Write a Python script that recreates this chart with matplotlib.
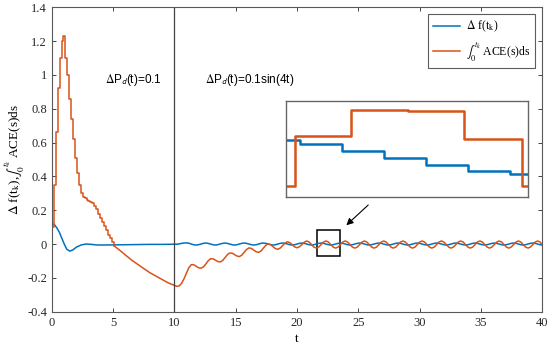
import matplotlib as mpl
mpl.use('Agg')
import matplotlib.pyplot as plt
from matplotlib.patches import Rectangle
from matplotlib.ticker import FuncFormatter

plt.rcParams['font.family'] = ['Liberation Serif', 'DejaVu Serif']
plt.rcParams['mathtext.fontset'] = 'stix'
plt.rcParams['axes.unicode_minus'] = False

BLUE = '#0072BD'
ORANGE = '#D95319'

# integral of ACE, first part is a staircase (sampled)
t_o_steps = [0.0, 0.18, 0.33, 0.48, 0.64, 0.80, 0.92, 1.06, 1.22, 1.38, 1.54,
             1.70, 1.86, 2.02, 2.18, 2.34, 2.50, 2.66, 2.82, 2.98, 3.14, 3.30,
             3.46, 3.62, 3.78, 3.94, 4.10, 4.26, 4.42, 4.58, 4.74, 4.90, 5.06]
y_o_steps = [0.10, 0.35, 0.66, 0.92, 1.10, 1.20, 1.23, 1.10, 1.00, 0.86, 0.74,
             0.62, 0.51, 0.42, 0.35, 0.30, 0.28, 0.27, 0.26, 0.255, 0.25, 0.24,
             0.225, 0.205, 0.18, 0.155, 0.13, 0.105, 0.085, 0.055, 0.035, 0.01, -0.01]

t_o_mid = [5.06, 5.5, 6.0, 6.5, 7.0, 7.5, 8.0, 8.5, 9.0, 9.5, 10.0]
y_o_mid = [-0.01, -0.035, -0.065, -0.095, -0.12, -0.145, -0.17, -0.19, -0.21, -0.23, -0.245]

# shared time grid after the disturbance change at t=10
t_late = [10.19, 10.39, 10.58, 10.78, 10.98, 11.17, 11.37, 11.56, 11.76, 11.96,
          12.15, 12.35, 12.55, 12.74, 12.94, 13.14, 13.33, 13.53, 13.72, 13.92,
          14.12, 14.31, 14.51, 14.71, 14.90, 15.10, 15.30, 15.49, 15.69, 15.88,
          16.08, 16.28, 16.47, 16.67, 16.87, 17.06, 17.26, 17.46, 17.65, 17.85,
          18.04, 18.24, 18.44, 18.63, 18.83, 19.03, 19.22, 19.42, 19.61, 19.81,
          20.01, 20.20, 20.40, 20.60, 20.79, 20.99, 21.19, 21.38, 21.58, 21.77,
          21.97, 22.17, 22.36, 22.56, 22.76, 22.95, 23.15, 23.35, 23.54, 23.74,
          23.93, 24.13, 24.33, 24.52, 24.72, 24.92, 25.11, 25.31, 25.51, 25.70,
          25.90, 26.09, 26.29, 26.49, 26.68, 26.88, 27.08, 27.27, 27.47, 27.67,
          27.86, 28.06, 28.25, 28.45, 28.65, 28.84, 29.04, 29.24, 29.43, 29.63,
          29.83, 30.02, 30.22, 30.41, 30.61, 30.81, 31.00, 31.20, 31.40, 31.59,
          31.79, 31.99, 32.18, 32.38, 32.57, 32.77, 32.97, 33.16, 33.36, 33.56,
          33.75, 33.95, 34.14, 34.34, 34.54, 34.73, 34.93, 35.13, 35.32, 35.52,
          35.72, 35.91, 36.11, 36.31, 36.50, 36.70, 36.89, 37.09, 37.29, 37.48,
          37.68, 37.88, 38.07, 38.27, 38.46, 38.66, 38.86, 39.05, 39.25, 39.45,
          39.64, 39.84, 40.00]
y_o_late = [-0.250, -0.247, -0.232, -0.205, -0.172, -0.140, -0.122, -0.122, -0.131, -0.140,
            -0.143, -0.136, -0.119, -0.100, -0.087, -0.087, -0.095, -0.103, -0.106, -0.098,
            -0.081, -0.063, -0.053, -0.054, -0.062, -0.071, -0.074, -0.066, -0.049, -0.032,
            -0.023, -0.026, -0.036, -0.046, -0.049, -0.041, -0.024, -0.007, 0.001, -0.004,
            -0.015, -0.027, -0.031, -0.024, -0.009, 0.006, 0.013, 0.008, -0.004, -0.017,
            -0.022, -0.016, -0.003, 0.011, 0.018, 0.012, -0.003, -0.018, -0.024, -0.018,
            -0.003, 0.012, 0.018, 0.012, -0.003, -0.018, -0.024, -0.018, -0.003, 0.012,
            0.018, 0.012, -0.003, -0.018, -0.024, -0.018, -0.003, 0.012, 0.018, 0.012,
            -0.003, -0.018, -0.024, -0.018, -0.003, 0.012, 0.018, 0.012, -0.003, -0.018,
            -0.024, -0.018, -0.003, 0.012, 0.018, 0.012, -0.003, -0.018, -0.024, -0.018,
            -0.003, 0.012, 0.018, 0.012, -0.003, -0.018, -0.024, -0.018, -0.003, 0.012,
            0.018, 0.012, -0.003, -0.018, -0.024, -0.018, -0.003, 0.012, 0.018, 0.012,
            -0.003, -0.018, -0.024, -0.018, -0.003, 0.012, 0.018, 0.012, -0.003, -0.018,
            -0.024, -0.018, -0.003, 0.012, 0.018, 0.012, -0.003, -0.018, -0.024, -0.018,
            -0.003, 0.012, 0.018, 0.012, -0.003, -0.018, -0.024, -0.018, -0.003, 0.012,
            0.018, 0.012, -0.003]

# frequency deviation
t_b_early = [0.0, 0.2, 0.4, 0.6, 0.8, 1.0, 1.2, 1.45, 1.7, 2.0, 2.4, 2.8, 3.2,
             3.6, 4.0, 5.0, 6.0, 7.0, 8.0, 9.0, 10.0]
y_b_early = [0.12, 0.115, 0.095, 0.07, 0.035, 0.0, -0.03, -0.042, -0.035, -0.018,
             -0.005, 0.0, -0.002, -0.005, -0.006, -0.005, -0.004, -0.003, -0.002,
             -0.002, -0.001]
y_b_late = [-0.001, 0.001, 0.004, 0.006, 0.007, 0.005, 0.000, -0.004, -0.006, -0.004,
            0.000, 0.004, 0.006, 0.004, 0.000, -0.004, -0.006, -0.004, 0.000, 0.004,
            0.006, 0.004, 0.000, -0.004, -0.006, -0.004, 0.000, 0.004, 0.006, 0.004,
            0.000, -0.004, -0.006, -0.004, 0.000, 0.004, 0.006, 0.004, 0.000, -0.004,
            -0.006, -0.004, 0.000, 0.004, 0.006, 0.004, 0.000, -0.004, -0.006, -0.004,
            0.000, 0.004, 0.006, 0.004, 0.000, -0.004, -0.006, -0.004, 0.000, 0.004,
            0.006, 0.004, 0.000, -0.004, -0.006, -0.004, 0.000, 0.004, 0.006, 0.004,
            0.000, -0.004, -0.006, -0.004, 0.000, 0.004, 0.006, 0.004, 0.000, -0.004,
            -0.006, -0.004, 0.000, 0.004, 0.006, 0.004, 0.000, -0.004, -0.006, -0.004,
            0.000, 0.004, 0.006, 0.004, 0.000, -0.004, -0.006, -0.004, 0.000, 0.004,
            0.006, 0.004, 0.000, -0.004, -0.006, -0.004, 0.000, 0.004, 0.006, 0.004,
            0.000, -0.004, -0.006, -0.004, 0.000, 0.004, 0.006, 0.004, 0.000, -0.004,
            -0.006, -0.004, 0.000, 0.004, 0.006, 0.004, 0.000, -0.004, -0.006, -0.004,
            0.000, 0.004, 0.006, 0.004, 0.000, -0.004, -0.006, -0.004, 0.000, 0.004,
            0.006, 0.004, 0.000, -0.004, -0.006, -0.004, 0.000, 0.004, 0.006, 0.004,
            0.000, -0.004, -0.006]

# zoomed window (inset)
t_in_blue = [21.60, 21.71, 22.04, 22.37, 22.70, 23.03, 23.36, 23.50]
y_in_blue = [0.020, 0.014, 0.003, -0.009, -0.020, -0.029, -0.034, -0.034]
t_in_orange = [21.60, 21.67, 22.11, 22.56, 23.00, 23.45, 23.50]
y_in_orange = [-0.053, 0.026, 0.069, 0.067, 0.022, -0.053, -0.053]

fig = plt.figure(figsize=(5.5, 3.48), dpi=100)
ax = fig.add_axes([0.0945, 0.1043, 0.891, 0.875])

lw = 1.1
ax.plot(t_b_early + t_late, y_b_early + y_b_late, color=BLUE, lw=lw,
        label=r'$\Delta$ f(t$_\mathrm{k}$)')
ax.plot(t_o_steps, y_o_steps, color=ORANGE, lw=lw, drawstyle='steps-post',
        label=r'$\int_0^{t_k}$ ACE(s)ds')
ax.plot(t_o_mid + t_late, y_o_mid + y_o_late, color=ORANGE, lw=lw)

ax.axvline(10, color='0.25', lw=0.9)

ax.set_xlim(0, 40)
ax.set_ylim(-0.4, 1.4)
ax.set_xticks(range(0, 41, 5))
ax.set_yticks([-0.4, -0.2, 0, 0.2, 0.4, 0.6, 0.8, 1.0, 1.2, 1.4])
ax.yaxis.set_major_formatter(FuncFormatter(lambda v, p: '%g' % round(v, 2)))
ax.tick_params(direction='in', top=True, right=True, labelsize=9,
               length=3, width=0.6, colors='0.15')
for s in ax.spines.values():
    s.set_color('0.35')
    s.set_linewidth(0.8)

ax.set_xlabel('t', fontsize=9.5, labelpad=3)
ax.set_ylabel(r'$\Delta$ f(t$_\mathrm{k}$),$\int_0^{t_k}$ ACE(s)ds', fontsize=9.5)
ax.yaxis.set_label_coords(-0.05, 0.5)

ax.text(4.35, 0.97, r'$\Delta$P$_\mathsf{d}$(t)=0.1', family=['Liberation Sans', 'DejaVu Sans'],
        fontsize=8.5, va='center')
ax.text(12.5, 0.97, r'$\Delta$P$_\mathsf{d}$(t)=0.1sin(4t)', family=['Liberation Sans', 'DejaVu Sans'],
        fontsize=8.5, va='center')

leg = ax.legend(loc='upper right', fontsize=8.5, frameon=True, fancybox=False,
                handlelength=2.3, borderaxespad=0.6, labelspacing=0.5,
                handletextpad=0.5)
leg.get_frame().set_edgecolor('0.2')
leg.get_frame().set_linewidth(0.8)

ax.add_patch(Rectangle((21.6, -0.071), 1.9, 0.154, fill=False, edgecolor='black', lw=1.1))
ax.annotate('', xy=(23.86, 0.10), xytext=(25.98, 0.242),
            arrowprops=dict(arrowstyle='-|>', color='black', lw=0.8,
                            mutation_scale=10))

ins = fig.add_axes([0.52, 0.434, 0.44, 0.276])
ins.plot(t_in_blue, y_in_blue, color=BLUE, lw=1.8, drawstyle='steps-post')
ins.plot(t_in_orange, y_in_orange, color=ORANGE, lw=1.8, drawstyle='steps-post')
ins.set_xlim(21.6, 23.5)
ins.set_ylim(-0.071, 0.083)
ins.set_xticks([])
ins.set_yticks([])
for s in ins.spines.values():
    s.set_color('0.4')
    s.set_linewidth(1.0)

fig.savefig('out.png', dpi=100)
